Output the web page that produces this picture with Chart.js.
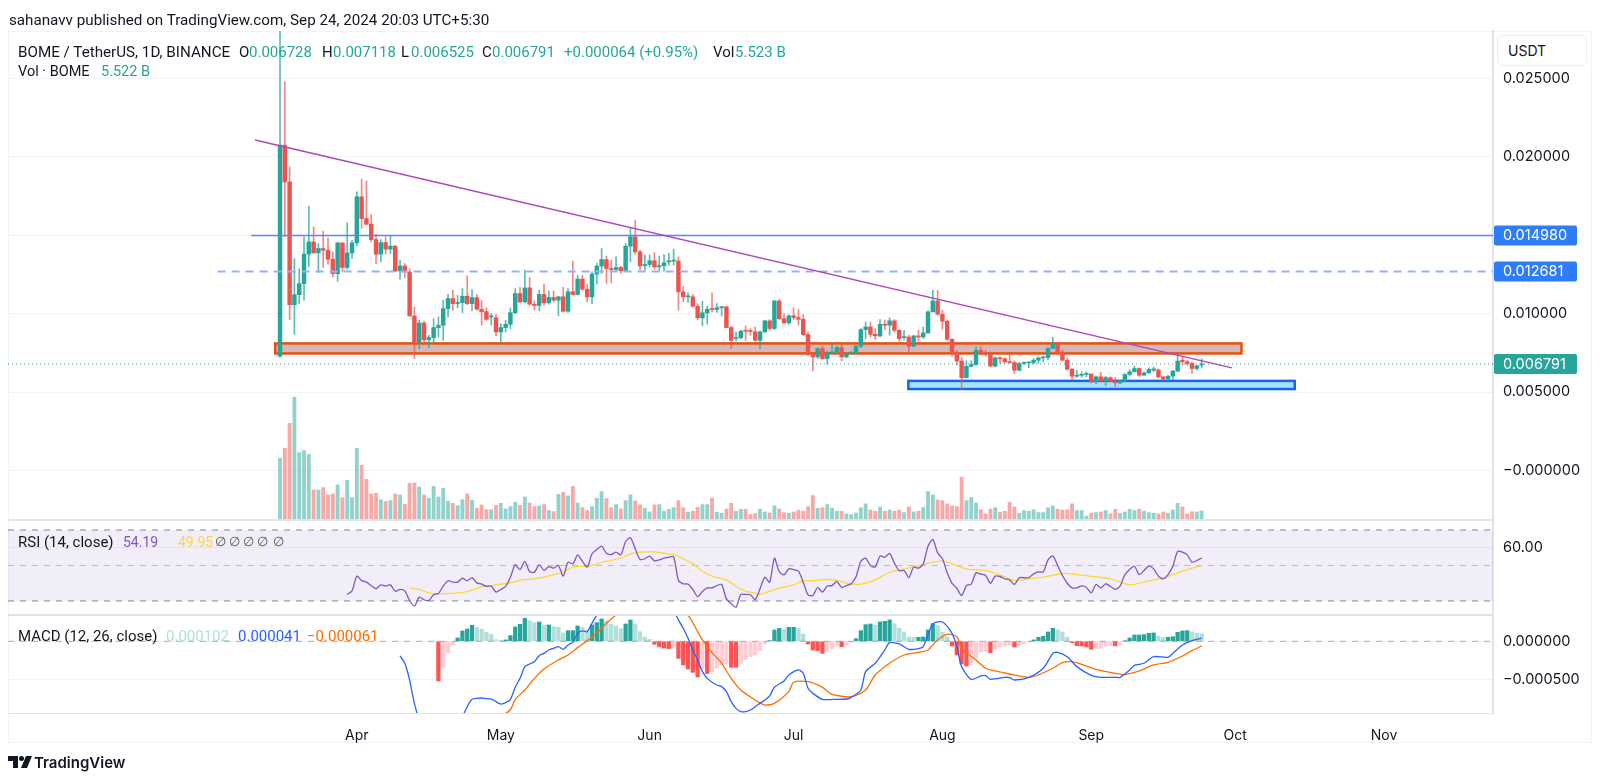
<!DOCTYPE html>
<html>
<head>
<meta charset="utf-8">
<script src="https://cdn.jsdelivr.net/npm/chart.js@4"></script>
<style>
  html, body { margin: 0; padding: 0; background: #fff; }
  #wrap { position: relative; width: 1600px; height: 780px; overflow: hidden; font-family: Roboto, sans-serif; color: #131722; }
  canvas { position: absolute; left: 0; top: 0; }
  .t { position: absolute; font-size: 15px; line-height: 18px; white-space: nowrap; }
  .g { color: #26a69a; }
  #frame { position: absolute; left: 8px; top: 31px; width: 1584px; height: 712px; border: 1px solid #f0f3fa; box-sizing: border-box; }
  #usdt { position: absolute; left: 1497px; top: 35px; width: 90px; height: 31px; box-sizing: border-box; border: 1px solid #eceef3; border-radius: 6px; background: #fff; font: 14px Inter, sans-serif; line-height: 29px; padding-left: 10px; }
  #logo { position: absolute; left: 8px; top: 755px; }
  #brand { position: absolute; left: 34px; top: 753px; font: 600 15px Inter, sans-serif; line-height: 20px; color: #131722; }
</style>
</head>
<body>
<div id="wrap">
  <div id="frame"></div>
  <canvas id="chart" width="1600" height="780"></canvas>
  <div class="t" style="left:9px;top:11px;font-size:15.2px">sahanavv published on TradingView.com, Sep 24, 2024 20:03 UTC+5:30</div>
  <div class="t" style="left:18px;top:43px;font-size:15.2px">BOME / TetherUS, 1D, BINANCE</div>
  <div class="t" style="left:239px;top:43px">O</div><div class="t g" style="left:249px;top:43px">0.006728</div>
  <div class="t" style="left:322px;top:43px">H</div><div class="t g" style="left:333px;top:43px">0.007118</div>
  <div class="t" style="left:401px;top:43px">L</div><div class="t g" style="left:411px;top:43px">0.006525</div>
  <div class="t" style="left:482px;top:43px">C</div><div class="t g" style="left:492px;top:43px">0.006791</div>
  <div class="t g" style="left:564px;top:43px">+0.000064 (+0.95%)</div>
  <div class="t" style="left:713px;top:43px">Vol</div><div class="t g" style="left:735px;top:43px">5.523 B</div>
  <div class="t" style="left:18px;top:63px;font-size:14.5px">Vol · BOME</div><div class="t g" style="left:101px;top:63px;font-size:14.5px">5.522 B</div>
  <div class="t" style="left:18px;top:533px">RSI (14, close)</div>
  <div class="t" style="left:123px;top:533px;font-size:14px;color:#7e57c2">54.19</div>
  <div class="t" style="left:178px;top:533px;font-size:14px;color:#fdd835">49.95</div>
  <div class="t" style="left:215px;top:533px;font-size:13px;color:#50535e">∅</div>
  <div class="t" style="left:229px;top:533px;font-size:13px;color:#50535e">∅</div>
  <div class="t" style="left:243px;top:533px;font-size:13px;color:#50535e">∅</div>
  <div class="t" style="left:257px;top:533px;font-size:13px;color:#50535e">∅</div>
  <div class="t" style="left:273px;top:533px;font-size:13px;color:#50535e">∅</div>
  <div class="t" style="left:18px;top:627px">MACD (12, 26, close)</div>
  <div class="t" style="left:166px;top:627px;color:#b2dfdb">0.000102</div>
  <div class="t" style="left:238px;top:627px;color:#2962ff">0.000041</div>
  <div class="t" style="left:307px;top:627px;color:#ff6d00">−0.000061</div>
  <div id="usdt">USDT</div>
  <svg id="logo" width="24" height="14" viewBox="0 0 24 14"><path d="M0 1h10v12H5V6H0z" fill="#131722"/><circle cx="13.5" cy="3.5" r="2.5" fill="#131722"/><path d="M18 1h6l-5 12h-6z" fill="#131722"/></svg>
  <div id="brand">TradingView</div>
</div>

<script>
// prices are in thousandths of a USDT, macd values in millionths
const opens = [
  7.28,20.74,18.4,10.57,11.21,11.91,13.79,14.57,13.87,14.15,
  14.04,13.47,12.55,14.51,12.94,13.87,14.51,17.45,16.06,15.70,
  14.72,13.79,14.53,14.11,14.30,12.72,13.04,12.66,9.85,8.19,
  9.40,8.34,8.47,9.11,9.26,10.32,10.96,10.64,10.70,11.11,
  10.64,11.02,10.28,10.13,9.79,9.74,8.83,9.11,9.32,10.06,
  11.28,10.75,11.64,10.60,10.52,11.22,10.69,11.03,10.86,11.07,
  10.15,11.39,11.22,12.20,11.56,11.07,12.52,13.03,13.45,12.88,
  12.81,12.94,12.73,14.30,14.90,13.94,13.05,13.13,13.37,12.98,
  13.05,13.30,13.35,13.35,11.39,11.07,11.07,10.47,9.73,10.05,
  10.32,10.26,10.37,10.43,9.11,8.41,8.45,8.90,8.88,8.84,
  8.30,8.84,9.54,9.05,10.81,9.68,9.41,9.86,9.75,9.64,
  8.66,7.39,7.24,7.77,7.13,7.49,7.56,7.83,7.24,7.45,
  7.53,7.92,8.98,9.15,8.68,8.58,9.32,9.26,9.54,8.94,
  8.47,8.51,7.92,8.58,8.51,8.77,10.11,10.81,9.96,9.51,
  8.36,7.49,6.98,5.92,6.64,6.75,7.66,7.46,7.39,6.65,
  7.18,7.12,6.93,6.88,6.39,6.82,6.86,6.88,7.03,7.18,
  7.20,7.78,8.05,7.56,7.03,6.46,6.01,6.07,6.12,6.14,
  5.65,5.97,5.71,5.92,5.69,5.58,5.71,6.12,6.29,6.50,
  6.07,6.22,6.39,6.40,5.97,5.82,6.01,6.33,7.03,6.93,
  6.82,6.50,6.728
];
const highs = [
  30,24.8,19.36,13.51,12.87,14.89,16.85,15.53,14.47,15.26,
  14.83,13.94,14.55,14.51,15.79,14.68,17.77,18.57,18.47,16.32,
  15.06,14.72,14.89,14.96,14.36,13.40,13.19,12.87,10.43,9.57,
  9.53,8.62,9.68,9.79,10.85,11.23,11.49,11.17,11.60,12.40,
  11.53,11.23,10.85,10.38,10.0,9.96,9.36,9.57,10.36,11.60,
  11.67,12.77,12.30,10.81,11.50,11.88,11.45,11.45,11.11,11.67,
  11.60,13.35,12.45,12.45,11.88,12.67,13.20,14.15,13.67,13.41,
  13.62,13.03,14.47,15.43,15.96,14.05,13.73,13.73,13.88,13.67,
  13.77,13.84,14.11,13.62,11.75,11.33,11.22,10.64,10.79,10.47,
  11.33,10.64,10.47,10.47,9.20,8.84,8.94,9.22,9.05,9.15,
  8.88,9.58,9.62,10.83,10.90,10.0,9.94,10.36,10.26,9.94,
  8.83,7.39,7.83,7.92,7.66,8.09,7.92,8.06,7.49,7.60,
  7.98,9.05,9.47,9.47,9.05,9.62,9.58,9.73,9.62,8.98,
  8.94,8.62,8.62,8.94,9.15,10.17,11.49,11.49,10.22,9.58,
  8.41,7.66,7.20,7.0,7.0,7.88,7.88,7.67,7.56,7.24,
  7.24,7.18,7.46,6.99,6.88,6.93,6.90,7.14,7.24,7.24,
  7.84,8.48,8.14,7.67,7.18,6.50,6.39,6.29,6.29,6.18,
  6.01,6.25,6.0,5.97,5.92,5.75,6.18,6.44,6.65,6.54,
  6.29,6.54,6.60,6.48,5.97,6.07,6.39,7.35,7.24,7.03,
  6.93,6.71,7.118
];
const lows = [
  7.2,14.9,9.62,8.68,10.64,10.85,12.98,13.87,12.62,12.94,
  13.15,12.34,12.06,12.66,12.83,13.51,14.32,15.43,15.64,14.57,
  13.19,13.30,13.79,13.83,12.66,12.19,12.30,9.85,7.13,7.77,
  7.98,7.83,8.09,8.51,8.30,9.79,10.21,10.38,10.06,10.57,
  10.17,10.21,9.26,9.57,9.26,8.57,8.19,8.83,9.04,10.0,
  10.69,10.69,10.54,10.22,10.18,10.54,10.60,10.75,9.86,10.11,
  10.07,11.18,11.18,11.50,10.75,10.64,11.88,12.56,11.92,11.96,
  12.67,12.56,12.67,13.30,13.79,12.77,12.77,12.98,12.84,12.73,
  12.71,13.09,13.09,10.22,10.75,10.71,10.43,9.62,9.22,9.33,
  10.11,10.07,9.84,9.11,7.77,8.26,8.41,8.30,8.62,8.26,
  7.77,8.79,8.94,8.98,9.62,9.37,9.32,9.62,9.26,8.62,
  7.34,6.34,7.13,7.07,6.77,7.45,7.45,6.98,7.17,7.41,
  7.49,7.83,8.41,8.51,8.34,8.51,8.98,8.62,8.83,8.24,
  8.30,7.49,7.88,8.26,8.41,8.73,10.11,9.90,9.0,8.30,
  7.28,6.71,5.15,5.90,6.60,6.71,7.35,7.29,6.60,6.60,
  6.82,6.86,6.82,6.18,6.35,6.75,6.56,6.78,6.82,6.92,
  7.07,7.78,7.52,6.99,6.39,5.80,5.93,5.93,5.97,5.58,
  5.54,5.65,5.43,5.65,5.33,5.54,5.65,6.01,6.29,6.01,
  6.07,6.18,6.30,5.90,5.76,5.82,5.80,6.29,6.71,6.71,
  6.18,6.39,6.525
];
const closes = [
  20.74,18.4,10.57,11.21,11.91,13.79,14.57,13.87,14.15,14.04,
  13.47,12.55,14.51,12.94,13.87,14.51,17.45,16.06,15.70,14.72,
  13.79,14.53,14.11,14.30,12.72,13.04,12.66,9.85,8.19,9.40,
  8.34,8.47,9.11,9.26,10.32,10.96,10.64,10.70,11.11,10.64,
  11.02,10.28,10.13,9.64,9.85,8.83,9.11,9.32,10.06,11.28,
  10.75,11.64,10.60,10.52,11.22,10.69,11.03,10.86,11.07,10.15,
  11.39,11.22,12.20,11.56,11.07,12.52,13.03,13.45,12.88,12.81,
  12.94,12.73,14.30,14.90,13.94,13.05,13.13,13.37,12.98,13.05,
  13.24,13.35,13.41,11.39,11.07,11.13,10.47,9.73,10.05,10.28,
  10.26,10.37,10.43,9.11,8.30,8.45,8.88,8.88,8.86,8.30,
  8.84,9.54,9.05,10.81,9.68,9.41,9.86,9.75,9.64,8.66,
  7.39,7.24,7.77,7.13,7.49,7.56,7.83,7.24,7.45,7.53,
  7.92,8.98,9.15,8.68,8.58,9.32,9.26,9.54,8.94,8.41,
  8.51,7.92,8.58,8.51,8.77,10.11,10.81,9.96,9.51,8.36,
  7.49,6.98,5.92,6.64,6.75,7.66,7.46,7.39,6.65,7.18,
  7.12,6.93,6.88,6.39,6.82,6.86,6.88,7.03,7.18,7.20,
  7.78,8.05,7.56,7.03,6.46,6.01,6.07,6.12,6.14,5.65,
  5.97,5.71,5.92,5.69,5.58,5.71,6.12,6.29,6.50,6.07,
  6.22,6.44,6.48,5.97,5.82,6.01,6.33,6.97,6.93,6.82,
  6.50,6.67,6.791
];
// volume, billions
const volumes = [
  41.9,48.8,66,84,45.8,47.2,44.6,20,20,21.6,
  16.6,17.3,23.5,14.7,26.7,14.7,48.8,37,27.4,17.3,
  17.7,13.3,12,12.7,17.3,16.6,10.1,24.6,24.8,22.1,
  16.6,14.3,22.5,15.2,21.2,12.2,10.8,9.2,13.3,17.3,
  12.9,7.4,9.7,6.4,6.4,9.4,10.8,6.9,8.5,11.5,
  9.4,15.2,11,8.5,9,9.9,5.8,5.1,17,18.4,
  15.9,22.5,11,7.8,5.8,8.5,14.3,18.9,14,7.8,
  9.9,6.9,12.7,16.6,12.4,9.7,7.4,4.8,9.7,9.9,
  5.3,6.7,7.8,12.7,7.8,4.6,5.3,8,9.9,9.9,
  14.3,4.6,3.9,6.9,10.8,5.3,6.7,6.7,3.2,3.7,
  6.7,4.8,4.1,9,6.9,4.4,3.9,4.8,6,5.3,
  8.5,16.1,7.4,7.8,9.9,7.4,5.3,5.3,3.5,3,
  4.1,7.8,10.4,6.2,5.3,8.3,5.3,6.2,5.3,6.2,
  4.4,8.3,4.8,5.3,7.8,18.9,16.6,13.1,12.7,10.4,
  9,8.5,28.8,12.7,14.7,11,6.4,3.5,6.7,7.8,
  4.6,5.3,11.5,8.3,3.9,5.8,5.3,6.4,4.4,4.4,
  7.8,9,6.7,6.2,6.2,10.4,5.8,5.8,2,3.9,
  4.4,4.8,5.8,3.5,6.7,3.9,4.8,6.7,5.8,6.7,
  5.3,4.4,3.9,3.5,4.8,3.9,6.2,10.8,8.3,3.5,
  5,4.8,5.52
];
// RSI starts on day 14
const rsiStart = 14;
const rsiValues = [
  33.7,35.7,44.0,41.5,40.6,38.7,36.9,39.1,38.5,39.1,
  35.5,36.5,35.7,30.3,27.1,32.2,30.7,30.3,33.5,34.2,
  38.4,41.4,40.6,40.6,42.9,41.4,43.2,40.2,39.5,38.2,
  38.4,35.0,36.5,38.2,43.4,50.4,47.7,52.3,46.6,46.2,
  50.4,47.2,49.4,48.5,50.0,44.0,51.9,50.9,56.0,52.3,
  49.1,56.6,59.0,60.9,56.9,56.2,57.5,56.0,63.5,65.6,
  59.4,53.4,53.8,55.3,52.6,53.2,54.1,54.7,54.9,41.5,
  39.7,39.5,36.5,32.5,35.4,37.4,37.4,38.7,39.3,31.2,
  28.4,26.5,33.7,33.7,33.5,30.7,36.9,43.4,40.6,54.1,
  46.6,44.7,48.1,47.7,46.8,40.6,33.5,33.1,37.6,35.0,
  38.4,38.7,41.0,37.6,38.7,39.7,43.6,52.4,54.1,50,
  49.2,55.3,54.7,56.8,51.3,47.0,47.2,43.2,49.1,48.5,
  50.9,60.9,64.6,57.1,53.8,45.9,40.0,37.2,33.1,38.7,
  39.5,45.9,45.1,44.4,40.0,44.0,43.8,42.5,41.9,39.3,
  43.1,43.1,43.1,45.3,46.4,46.4,53.2,55.4,50,44.4,
  40,37.4,37.4,38.5,37.6,34.6,39.3,37.4,39.7,38.2,
  36.5,38.4,44.7,47.7,49.6,44.9,47.2,49.6,48.1,44.0,
  42.5,44.9,49.6,57.9,57.5,56.0,51.9,52.8,54.19
];
const rsiMaDays = [
  27,29,31,33,36,38,40,42,44,46,48,50,53,55,57,59,61,64,66,68,71,73,75,78,80,82,84,86,88,90,93,95,97,99,100,
  102,104,107,109,111,114,116,118,121,124,127,131,134,138,140,143,146,148,151,153,156,159,163,166,170,173,177,180,184,187,190,192
];
const rsiMaValues = [
  37.4,36.5,34.6,34.0,34.4,34.8,36.1,38.0,38.7,39.5,40.2,41.7,42.5,43.4,44.9,46.2,49.1,49.6,50.8,52.4,54.1,56.6,57.5,57.7,56.9,56.2,53.8,50.9,46.8,44,41.9,38.2,35.5,34.4,33.8,
  35.4,37.2,39.1,41.4,41.4,42.1,41.7,40,39.5,41.9,46.2,48.5,50.6,52.6,50.9,48.1,47.4,46.6,43.6,41.5,42.5,43.4,45.5,44.9,43.6,42.5,39.1,40.6,43.1,45.9,48.5,49.95
];
// MACD histogram starts on day 33
const histStart = 33;
const macdHist = [
  -522,-342,-154,-48,44,136,162,210,184,158,
  118,92,22,13,18,75,189,224,303,272,
  246,254,215,215,193,184,110,140,140,202,
  180,149,215,246,294,268,224,202,167,228,
  281,228,127,57,26,-39,-70,-88,-96,-92,
  -224,-311,-364,-408,-469,-364,-425,-404,-355,-311,
  -298,-342,-342,-289,-237,-202,-180,-123,-35,9,
  149,171,158,184,184,171,96,-35,-114,-123,
  -158,-127,-101,-61,-70,-44,-13,35,140,219,
  228,215,254,263,281,232,171,123,57,53,
  53,57,149,232,206,118,61,-61,-180,-298,
  -325,-311,-224,-136,-123,-149,-101,-70,-61,-53,
  -75,-48,-31,-13,18,53,66,123,171,153,
  123,53,-18,-57,-61,-75,-105,-96,-92,-66,
  -57,-61,-48,4,44,83,83,88,105,110,
  70,53,53,61,118,136,140,125,110,102
];
const macdDays = [
  25,26,27,28,30,34,37,39,40,41,42,43,44,45,46,47,48,49,50,51,52,53,54,55,56,57,58,59,60,61,62,63,64,65,66,67,69,72,75,78,80,82,83,84,85,86,87,88,89,90,91,92,93,94,95,96,97,98,99,100,101,102,103,
  105,106,108,109,110,111,113,116,118,119,121,122,124,126,127,129,131,133,134,136,138,140,141,142,144,146,147,148,151,152,153,156,159,161,162,164,166,169,171,174,175,177,178,180,182,185,186,188,190,192
];
const macdValues = [
  -193,-289,-509,-816,-1211,-1386,-1123,-860,-763,-750,-746,-754,-759,-794,-825,-807,-763,-605,-487,-333,-298,-268,-189,-158,-114,-92,-70,-105,-48,-13,105,136,127,237,346,456,588,675,719,544,478,390,281,171,39,-114,-246,-399,-487,-539,-575,-596,-662,-794,-882,-925,-925,-904,-860,-816,-772,-719,-605,
  -522,-443,-377,-421,-618,-684,-763,-763,-759,-737,-640,-399,-289,-114,-18,-35,-105,-96,-70,228,254,105,-70,-333,-500,-456,-452,-500,-474,-478,-509,-474,-355,-158,-145,-202,-333,-447,-474,-474,-474,-377,-316,-289,-202,-211,-158,-48,9,41
];
const signalDays = [
  33,38,43,46,48,49,51,53,55,58,60,62,64,66,67,68,70,72,75,78,81,83,85,87,88,90,92,94,96,99,101,103,
  106,107,110,113,115,119,122,124,127,130,133,135,137,139,141,142,145,147,149,152,156,158,161,163,165,167,170,174,176,179,182,185,188,190,192
];
const signalValues = [
  -1167,-1101,-1040,-980,-900,-763,-640,-487,-364,-246,-180,-83,9,105,171,237,346,434,500,509,412,421,346,127,18,-149,-289,-487,-640,-772,-838,-816,
  -662,-539,-531,-605,-697,-728,-640,-443,-289,-180,-145,-114,18,92,61,-92,-246,-355,-390,-430,-474,-443,-355,-281,-268,-303,-368,-421,-439,-390,-311,-276,-193,-123,-61
];
// drawing objects on the price pane
const trendDays = [-5.2, 198.3];
const trendPrices = [21.07, 6.54];
const resistance = 14.98;
const resistanceFrom = -6;
const midLevel = 12.681;
const midLevelFrom = -13;
const lastClose = 6.791;
const orangeZone = { days: [-1, 200.3], prices: [7.46, 8.10] };
const blueZone = { days: [130.9, 211.4], prices: [5.19, 5.71] };
// day 0 is Mar 16
const monthDays = [16, 46, 77, 107, 138, 169, 199, 230];
const monthNames = ['Apr', 'May', 'Jun', 'Jul', 'Aug', 'Sep', 'Oct', 'Nov'];
const priceTicks = [25, 20, 15, 10, 5, 0];
const rsiTicks = [60];
const macdTicks = [0, -500];

const xMin = -56.67, xMax = 252.7;
const teal = '#26a69a', red = '#ef5350';

const isUp = i => closes[i] >= opens[i];
const days = closes.map((_, i) => i);

function histColor(v, i) {
  const prev = i > 0 ? macdHist[i - 1] : v;
  if (v >= 0) return v >= prev ? teal : '#b2dfdb';
  return v <= prev ? '#ff5252' : '#ffcdd2';
}

function flatLine(from, value, axis, color, width, dash) {
  return {
    type: 'line', yAxisID: axis, borderColor: color, borderWidth: width, borderDash: dash || [],
    pointRadius: 0, data: [{ x: from, y: value }, { x: xMax, y: value }]
  };
}
function curve(xs, ys, axis, color, width) {
  return {
    type: 'line', yAxisID: axis, borderColor: color, borderWidth: width, pointRadius: 0, tension: 0.25,
    data: xs.map((x, i) => ({ x, y: ys[i] }))
  };
}

const datasets = [
  { type: 'line', yAxisID: 'price', borderColor: '#ab47bc', borderWidth: 1.5, pointRadius: 0,
    data: trendDays.map((x, i) => ({ x, y: trendPrices[i] })) },
  flatLine(resistanceFrom, resistance, 'price', '#5b86f2', 1.5),
  flatLine(midLevelFrom, midLevel, 'price', '#8fb3ff', 2, [8, 6]),
  flatLine(xMin, lastClose, 'price', teal, 1, [1, 3]),
  { type: 'bar', yAxisID: 'price', grouped: false, barThickness: 3.8, minBarLength: 1,
    backgroundColor: days.map(i => isUp(i) ? teal : red),
    data: days.map(i => ({ x: i, y: [opens[i], closes[i]] })) },
  { type: 'bar', yAxisID: 'price', grouped: false, barThickness: 1,
    backgroundColor: days.map(i => isUp(i) ? 'rgba(38,166,154,.75)' : 'rgba(239,83,80,.7)'),
    data: days.map(i => ({ x: i, y: [lows[i], highs[i]] })) },
  { type: 'bar', yAxisID: 'vol', grouped: false, barThickness: 3.2,
    backgroundColor: days.map(i => isUp(i) ? 'rgba(38,166,154,.5)' : 'rgba(239,83,80,.5)'),
    data: days.map(i => ({ x: i, y: volumes[i] })) },
  curve(rsiValues.map((_, i) => i + rsiStart), rsiValues, 'rsi', '#7e57c2', 1.3),
  curve(rsiMaDays, rsiMaValues, 'rsi', '#fdd835', 1.3),
  flatLine(xMin, 70, 'rsi', 'rgba(120,123,134,.9)', 1, [6, 6]),
  flatLine(xMin, 50, 'rsi', 'rgba(120,123,134,.45)', 1, [6, 6]),
  flatLine(xMin, 30, 'rsi', 'rgba(120,123,134,.9)', 1, [6, 6]),
  curve(macdDays, macdValues, 'macd', '#2962ff', 1.3),
  curve(signalDays, signalValues, 'macd', '#ff6d00', 1.3),
  flatLine(xMin, 0, 'macd', 'rgba(120,123,134,.6)', 1, [6, 6]),
  { type: 'bar', yAxisID: 'macd', grouped: false, barThickness: 3.6,
    backgroundColor: macdHist.map(histColor),
    data: macdHist.map((y, i) => ({ x: i + histStart, y })) }
];

// zones and the RSI band sit under the candles
const underlayPlugin = {
  id: 'underlay',
  beforeDatasetsDraw(chart) {
    const { ctx, scales } = chart;
    const { x, price, rsi } = scales;
    ctx.save();
    ctx.fillStyle = 'rgba(126,87,194,.1)';
    const bandTop = rsi.getPixelForValue(70), bandBottom = rsi.getPixelForValue(30);
    ctx.fillRect(x.left, bandTop, x.right - x.left, bandBottom - bandTop);
    [[orangeZone, '#d6b8b8', '#e8500a'], [blueZone, '#a8e2f8', '#1565f0']].forEach(([zone, fill, line]) => {
      const left = x.getPixelForValue(zone.days[0]), right = x.getPixelForValue(zone.days[1]);
      const top = price.getPixelForValue(zone.prices[1]), bottom = price.getPixelForValue(zone.prices[0]);
      ctx.fillStyle = fill;
      ctx.fillRect(left, top, right - left, bottom - top);
      ctx.strokeStyle = line;
      ctx.lineWidth = 2.5;
      ctx.strokeRect(left, top, right - left, bottom - top);
    });
    ctx.restore();
  }
};

// price tags on the right axis and the lines between the panes
const overlayPlugin = {
  id: 'overlay',
  afterDraw(chart) {
    const { ctx, scales } = chart;
    const { x, price, rsi, macd } = scales;
    ctx.save();
    ctx.strokeStyle = '#e0e3eb';
    ctx.lineWidth = 2;
    [rsi.top, macd.top].forEach(y => {
      ctx.beginPath();
      ctx.moveTo(x.left, y);
      ctx.lineTo(x.right, y);
      ctx.stroke();
    });
    ctx.font = '14.5px Inter, sans-serif';
    ctx.textBaseline = 'middle';
    [[resistance, '#2f7df6'], [midLevel, '#2f7df6'], [lastClose, teal]].forEach(([value, color]) => {
      const y = price.getPixelForValue(value);
      ctx.fillStyle = color;
      ctx.beginPath();
      ctx.roundRect(x.right + 1, y - 10, 83, 20, 2);
      ctx.fill();
      ctx.fillStyle = '#fff';
      ctx.fillText((value / 1000).toFixed(6), x.right + 10, y + 0.5);
    });
    ctx.restore();
  }
};

const sharedY = {
  position: 'right',
  stack: 'panes',
  offset: false,
  grid: { color: '#f0f3fa', drawTicks: false },
  border: { color: '#e0e3eb', width: 2 },
  afterFit(scale) { scale.width = 107; }
};
const tickFont = { family: 'Inter, sans-serif', size: 14.5 };

new Chart(document.getElementById('chart'), {
  type: 'bar',
  data: { datasets },
  plugins: [underlayPlugin, overlayPlugin],
  options: {
    responsive: false,
    animation: false,
    devicePixelRatio: 1,
    layout: { padding: { left: 8, top: 31, right: 0, bottom: 37 } },
    plugins: { legend: { display: false }, tooltip: { enabled: false } },
    scales: {
      x: {
        type: 'linear', min: xMin, max: xMax, offset: false,
        grid: { display: false },
        border: { color: '#e0e3eb' },
        afterBuildTicks(scale) { scale.ticks = monthDays.map(value => ({ value })); },
        ticks: {
          color: '#131722', font: { family: 'Inter, sans-serif', size: 14 }, padding: 6, maxRotation: 0, autoSkip: false,
          callback: value => monthNames[monthDays.indexOf(value)]
        },
        afterFit(scale) { scale.height = 30; }
      },
      price: {
        ...sharedY, stackWeight: 489, weight: 1, min: -3.16, max: 28.02,
        afterBuildTicks(scale) { scale.ticks = priceTicks.map(value => ({ value })); },
        ticks: {
          color: '#131722', font: tickFont, padding: 10, autoSkip: false,
          callback: v => v === 15 ? '' : v === 0 ? '−0.000000' : (v / 1000).toFixed(6)
        }
      },
      rsi: {
        ...sharedY, stackWeight: 95, weight: 2, min: 22.11, max: 75.63,
        afterBuildTicks(scale) { scale.ticks = rsiTicks.map(value => ({ value })); },
        ticks: { color: '#131722', font: tickFont, padding: 10, autoSkip: false, callback: v => v.toFixed(2) }
      },
      macd: {
        ...sharedY, stackWeight: 98, weight: 3, min: -943, max: 346,
        afterBuildTicks(scale) { scale.ticks = macdTicks.map(value => ({ value })); },
        ticks: {
          color: '#131722', font: tickFont, padding: 10, autoSkip: false,
          callback: v => v === 0 ? '0.000000' : '−' + (Math.abs(v) / 1e6).toFixed(6)
        }
      },
      // volume shares the price pane, zero sits just above the pane's bottom edge
      vol: { display: false, position: 'right', min: -133.9, max: 336.7 }
    }
  }
});
</script>
</body>
</html>
